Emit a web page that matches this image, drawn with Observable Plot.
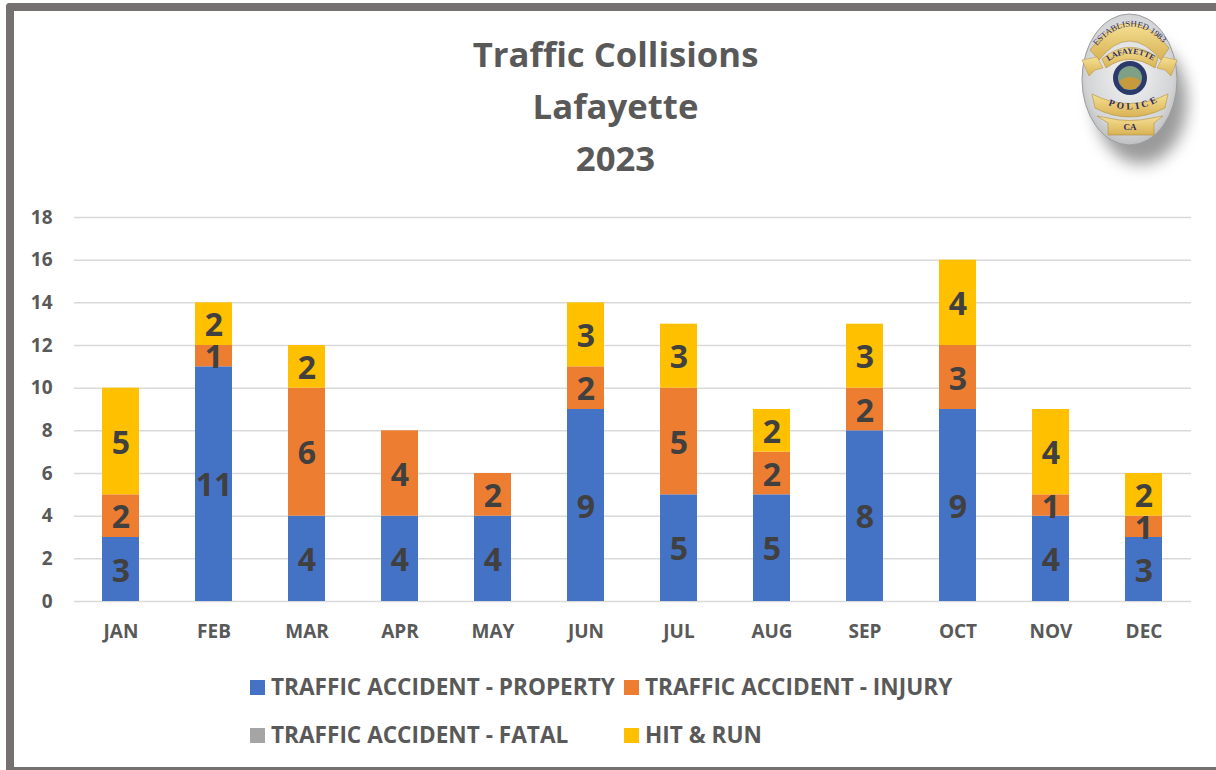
<!DOCTYPE html>
<html><head><meta charset="utf-8">
<script src="https://cdn.jsdelivr.net/npm/d3@7"></script>
<script src="https://cdn.jsdelivr.net/npm/@observablehq/plot@0.6"></script>
<style>
html,body{margin:0;padding:0;background:#fff;overflow:hidden}
#page{position:relative;width:1216px;height:770px;font-family:"Open Sans",sans-serif;overflow:hidden}
#frame{position:absolute;left:6px;top:3px;width:1212px;height:767px;box-sizing:border-box;border-left:8px solid #767171;border-top:8px solid #767171;border-bottom:3px solid #767171;border-top-left-radius:4px;pointer-events:none}
#title{position:absolute;left:0;top:28px;width:1231px;text-align:center;color:#595959;font-weight:700;font-size:34.7px;line-height:52px}
#chart{position:absolute;left:0;top:190px}
#badge{position:absolute;left:1075px;top:10px}
.lg{position:absolute;display:flex;align-items:center;color:#595959;font-weight:700;font-size:22.6px;white-space:nowrap;line-height:30px}
.lg i{display:block;width:15px;height:15px;margin-right:6px}
</style></head><body>
<div id="page">
<div id="title">Traffic Collisions<br>Lafayette<br>2023</div>
<div id="chart"></div>
<svg id="badge" width="125" height="170" viewBox="0 0 125 170">
<defs><filter id="sh" x="-40%" y="-40%" width="180%" height="180%"><feGaussianBlur stdDeviation="8"/></filter>
<radialGradient id="sv" cx="50%" cy="45%" r="65%"><stop offset="0" stop-color="#f4f4f4"/><stop offset="0.7" stop-color="#d3d4d6"/><stop offset="1" stop-color="#a9aaac"/></radialGradient>
<linearGradient id="gd" x1="0" x2="0" y1="0" y2="1"><stop offset="0" stop-color="#f5e094"/><stop offset="1" stop-color="#d9b254"/></linearGradient>
<path id="arcT" d="M 21 37 Q 54 -3 90 35"/>
<path id="arcL" d="M 31 53 Q 54 35 80 52"/>
<path id="arcP" d="M 26 91 Q 54 108 84 91"/>
</defs>
<ellipse cx="66" cy="92" rx="46" ry="62" fill="#6f6f6f" opacity="0.7" filter="url(#sh)"/>
<ellipse cx="54.500" cy="69.500" rx="47.500" ry="65.500" fill="url(#sv)" stroke="#9c9c9e"/>
<path d="M15 40 Q54 -13 94 38 L86 50 Q54 12 24 50 Z" fill="url(#gd)" stroke="#b08f3c" stroke-width="0.6"/>
<path d="M7 50 L22 47 L28 58 L20 60 L14 66 Z M102 50 L88 47 L82 58 L90 60 L96 66 Z" fill="url(#gd)" stroke="#b08f3c" stroke-width="0.5"/>
<path d="M27 49 Q54 26 83 48 L80 58 Q54 41 31 58 Z" fill="url(#gd)" stroke="#b08f3c" stroke-width="0.6"/>
<circle cx="55" cy="68" r="17" fill="#2b3a6b"/><circle cx="55" cy="68" r="12" fill="#7ea186"/><path d="M44 71 Q55 63 66 71 L61 79 L49 79Z" fill="#c79a3e"/>
<path d="M17 84 Q54 103 93 84 L90 98 Q54 116 20 98 Z" fill="url(#gd)" stroke="#b08f3c" stroke-width="0.6"/>
<path d="M22 106 L33 108 Q54 113 77 108 L88 106 L79 113 L79 125 L33 125 L33 113 Z" fill="url(#gd)" stroke="#b08f3c" stroke-width="0.6"/>
<g font-family="'Liberation Serif',serif" fill="#2e2a5c">
<text font-size="8.5"><textPath href="#arcT" startOffset="1" textLength="78" lengthAdjust="spacingAndGlyphs">ESTABLISHED 1983</textPath></text>
<text font-size="8" font-weight="700"><textPath href="#arcL" startOffset="3">LAFAYETTE</textPath></text>
<text font-size="9.5" font-weight="700" letter-spacing="3"><textPath href="#arcP" startOffset="8">POLICE</textPath></text>
<text x="55" y="120" text-anchor="middle" font-size="9" font-weight="700">CA</text>
</g>
</svg>
<div id="legend"></div>
<div id="frame"></div>
</div>
<script>
const months = ["JAN","FEB","MAR","APR","MAY","JUN","JUL","AUG","SEP","OCT","NOV","DEC"];
const seriesNames = ["TRAFFIC ACCIDENT - PROPERTY","TRAFFIC ACCIDENT - INJURY","TRAFFIC ACCIDENT - FATAL","HIT & RUN"];
const seriesColors = ["#4472C4","#ED7D31","#A5A5A5","#FFC000"];
const property = [3,11,4,4,4,9,5,5,8,9,4,3];
const injury   = [2,1,6,4,2,2,5,2,2,3,1,1];
const fatal    = [0,0,0,0,0,0,0,0,0,0,0,0];
const hitRun   = [5,2,2,0,0,3,3,2,3,4,4,2];
const yTicks = [0,2,4,6,8,10,12,14,16,18];

const columns = [property, injury, fatal, hitRun];
const rows = [];
columns.forEach((vals, s) => vals.forEach((v, m) => {
  if (v > 0) rows.push({month: months[m], series: seriesNames[s], value: v});
}));

const plot = Plot.plot({
  width: 1216, height: 470,
  marginLeft: 74, marginRight: 25, marginTop: 27, marginBottom: 59,
  style: {fontFamily: '"Open Sans",sans-serif', background: "transparent"},
  x: {domain: months, paddingInner: 0.6, paddingOuter: 0.3, align: 0.5, label: null, axis: null},
  y: {domain: [0, 18], label: null, axis: null},
  color: {domain: seriesNames, range: seriesColors},
  marks: [
    Plot.ruleY(yTicks, {stroke: "#D9D9D9", strokeWidth: 1.5, strokeOpacity: 1}),
    Plot.barY(rows, {x: "month", y: "value", z: "series", fill: "series", order: seriesNames}),
    Plot.text(rows, Plot.stackY({order: seriesNames, x: "month", y: "value", z: "series", text: "value", fill: "#404040", fontSize: 32, fontWeight: 700, dy: 2})),
    Plot.axisY({ticks: yTicks, tickSize: 0, tickPadding: 0, label: null, anchor: "left", dx: -22, fontSize: 19, fontWeight: 700, fill: "#595959", textAnchor: "end"}),
    Plot.axisX({domain: months, tickSize: 0, tickPadding: 23, label: null, fontSize: 19, fontWeight: 700, fill: "#595959"})
  ]
});
document.getElementById("chart").appendChild(plot);

const legendPos = [[250,672],[624,672],[250,720],[624,720]];
const legend = document.getElementById("legend");
seriesNames.forEach((n, i) => {
  const d = document.createElement("div");
  d.className = "lg";
  d.style.left = legendPos[i][0] + "px";
  d.style.top = legendPos[i][1] + "px";
  const sw = document.createElement("i");
  sw.style.background = seriesColors[i];
  d.appendChild(sw);
  d.appendChild(document.createTextNode(n));
  legend.appendChild(d);
});
</script>
</body></html>
